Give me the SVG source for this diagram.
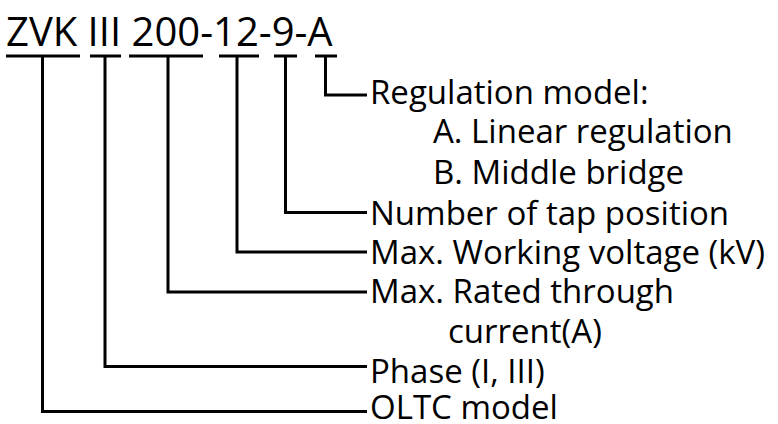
<svg xmlns="http://www.w3.org/2000/svg" width="778" height="424" viewBox="0 0 778 424">
<style>
.t{font-family:"Open Sans","Noto Sans","DejaVu Sans",sans-serif;fill:#000}
.title{font-size:40px}
.lab{font-size:33px}
.ln{stroke:#000;stroke-width:3;fill:none}
</style>
<rect width="778" height="424" fill="#fff"/>
<g id="code">
<text class="t title" x="6" y="46">ZVK III 200-12-9-A</text>
</g>
<g id="connectors">
<path class="ln" d="M6 56H80M42.5 56V411.5H367"/>
<path class="ln" d="M90 56H121M105 56V366.5H367"/>
<path class="ln" d="M129 56H203M168 56V292H367"/>
<path class="ln" d="M219 56H259M237 56V252H367"/>
<path class="ln" d="M274 56H297M285.5 56V212.5H367"/>
<path class="ln" d="M315 56H337M325.5 56V95H367"/>
</g>
<g id="label-regulation">
<text class="t lab" x="370" y="104">Regulation model:</text>
<text class="t lab" x="433" y="143">A. Linear regulation</text>
<text class="t lab" x="433" y="184">B. Middle bridge</text>
</g>
<g id="label-tap"><text class="t lab" x="370" y="225">Number of tap position</text></g>
<g id="label-voltage"><text class="t lab" x="370" y="264">Max. Working voltage (kV)</text></g>
<g id="label-current">
<text class="t lab" x="370" y="303">Max. Rated through</text>
<text class="t lab" x="448" y="343">current(A)</text>
</g>
<g id="label-phase"><text class="t lab" x="370" y="383">Phase (I, III)</text></g>
<g id="label-oltc"><text class="t lab" x="370" y="419">OLTC model</text></g>
</svg>
